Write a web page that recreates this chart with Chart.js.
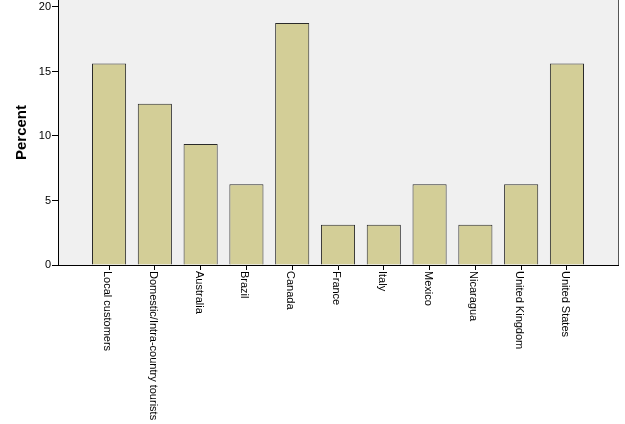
<!DOCTYPE html>
<html>
<head>
<meta charset="utf-8">
<script src="https://cdn.jsdelivr.net/npm/chart.js@4.4.0/dist/chart.umd.min.js"></script>
<style>
html,body{margin:0;padding:0;background:#fff;}
#wrap{width:625px;height:424px;position:relative;}
</style>
</head>
<body>
<div id="wrap"><canvas id="c" width="625" height="424"></canvas></div>
<script>
const categories = ["Local customers","Domestic/Intra-country tourists","Australia","Brazil","Canada","France","Italy","Mexico","Nicaragua","United Kingdom","United States"];
const percentValues = [15.625, 12.5, 9.375, 6.25, 18.75, 3.125, 3.125, 6.25, 3.125, 6.25, 15.625];
const yTickValues = [0, 5, 10, 15, 20];

const FONT = "'Liberation Sans', Arial, sans-serif";

const bgPlugin = {
  id: 'bgPlugin',
  beforeDraw(chart) {
    const a = chart.chartArea, ctx = chart.ctx;
    ctx.save();
    ctx.fillStyle = '#f0f0f0';
    ctx.fillRect(a.left, a.top, a.right - a.left, a.bottom - a.top);
    ctx.strokeStyle = '#555';
    ctx.lineWidth = 1;
    ctx.beginPath();
    ctx.moveTo(a.right + 0.5, a.top);
    ctx.lineTo(a.right + 0.5, a.bottom);
    ctx.stroke();
    ctx.restore();
  },
  afterDraw(chart) {
    const xs = chart.scales.x, ctx = chart.ctx;
    ctx.save();
    ctx.fillStyle = '#000';
    ctx.font = '11px ' + FONT;
    ctx.textAlign = 'left';
    ctx.textBaseline = 'middle';
    categories.forEach((lab, i) => {
      const px = xs.getPixelForValue(i);
      ctx.save();
      ctx.translate(px - 2, chart.chartArea.bottom + 6);
      ctx.rotate(Math.PI / 2);
      ctx.fillText(lab, 0, 0);
      ctx.restore();
    });
    ctx.restore();
  }
};

new Chart(document.getElementById('c'), {
  type: 'bar',
  data: {
    datasets: [{
      data: percentValues.map((v, i) => ({x: i, y: v})),
      backgroundColor: '#d3ce97',
      borderColor: '#2a2a2a',
      borderWidth: 1,
      borderSkipped: 'bottom',
      barPercentage: 0.745,
      categoryPercentage: 1
    }]
  },
  options: {
    responsive: false,
    animation: false,
    devicePixelRatio: 1,
    layout: {padding: {left: 0, right: 7, top: 0, bottom: 0}},
    plugins: {legend: {display: false}, tooltip: {enabled: false}},
    scales: {
      x: {
        type: 'linear',
        offset: false,
        min: -1.115,
        max: 11.115,
        afterBuildTicks(scale) { scale.ticks = categories.map((c, i) => ({value: i})); },
        afterFit(scale) { scale.height = 424 - 265; scale.paddingLeft = 0; scale.paddingRight = 0; },
        grid: {offset: false, drawOnChartArea: false, drawTicks: true, tickLength: 5, color: '#000', lineWidth: 1},
        border: {display: true, color: '#000', width: 1},
        ticks: {color: 'rgba(0,0,0,0)', font: {size: 11, family: FONT}, callback: (v) => categories[v] || '', maxRotation: 0, autoSkip: false}
      },
      y: {
        type: 'linear',
        min: 0,
        max: 20.54,
        afterBuildTicks(scale) { scale.ticks = yTickValues.map(v => ({value: v})); },
        afterFit(scale) { scale.width = 58; scale.paddingTop = 0; scale.paddingBottom = 0; },
        grid: {drawOnChartArea: false, drawTicks: true, tickLength: 6, color: '#000', lineWidth: 1},
        border: {display: true, color: '#000', width: 1},
        ticks: {color: '#000', font: {size: 11, family: FONT}, padding: 1},
        title: {display: true, text: 'Percent', color: '#000', font: {size: 15, weight: 'bold', family: FONT}, padding: {top: 13, bottom: 0}}
      }
    }
  },
  plugins: [bgPlugin]
});
</script>
</body>
</html>
